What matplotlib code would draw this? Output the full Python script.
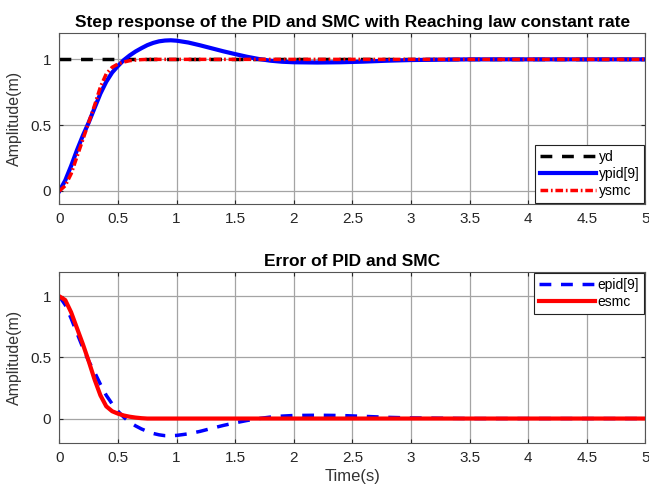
import numpy as np
import matplotlib
matplotlib.use("Agg")
import matplotlib.pyplot as plt

plt.rcParams['font.family'] = ['Liberation Sans', 'DejaVu Sans']

# time samples (s)
t = [0, 0.05, 0.1, 0.15, 0.2, 0.25, 0.3, 0.35, 0.4, 0.45, 0.5, 0.55, 0.6, 0.65, 0.7, 0.75,
     0.8, 0.85, 0.9, 0.95, 1.0, 1.1, 1.2, 1.3, 1.4, 1.5, 1.6, 1.7, 1.8, 1.9, 2.0, 2.2, 2.4, 2.6,
     2.8, 3.0, 3.5, 4.0, 4.5, 5.0]

# step response
yd = [1.0] * len(t)
ypid = [0, 0.08, 0.19, 0.31, 0.42, 0.52, 0.63, 0.74, 0.83, 0.90, 0.95, 0.995, 1.03, 1.06, 1.085, 1.108,
        1.125, 1.137, 1.143, 1.145, 1.142, 1.128, 1.107, 1.084, 1.061, 1.04, 1.02, 1.003, 0.99, 0.982, 0.978, 0.976, 0.978, 0.983,
        0.99, 0.995, 1.0, 1.0, 1.0, 1.0]
ysmc = [0, 0.04, 0.13, 0.26, 0.39, 0.52, 0.65, 0.79, 0.89, 0.94, 0.965, 0.98, 0.99, 0.995, 0.998, 1.0,
        1.0, 1.0, 1.0, 1.0, 1.0, 1.0, 1.0, 1.0, 1.0, 1.0, 1.0, 1.0, 1.0, 1.0, 1.0, 1.0, 1.0, 1.0,
        1.0, 1.0, 1.0, 1.0, 1.0, 1.0]

# errors
epid = [1, 0.93, 0.82, 0.70, 0.58, 0.47, 0.38, 0.28, 0.19, 0.12, 0.06, 0.01, -0.03, -0.06, -0.085, -0.105,
        -0.122, -0.133, -0.14, -0.141, -0.138, -0.125, -0.105, -0.08, -0.056, -0.035, -0.016, 0.0, 0.012, 0.02, 0.025, 0.027, 0.025, 0.018,
        0.01, 0.005, 0.0, 0.0, 0.0, 0.0]
esmc = [1, 0.97, 0.87, 0.74, 0.61, 0.47, 0.32, 0.19, 0.10, 0.06, 0.04, 0.025, 0.015, 0.008, 0.003, 0.0,
        0, 0, 0, 0, 0, 0, 0, 0, 0, 0, 0, 0, 0, 0, 0, 0, 0, 0,
        0, 0, 0, 0, 0, 0]

xticks = [0, 0.5, 1, 1.5, 2, 2.5, 3, 3.5, 4, 4.5, 5]
xticklabels = ['0', '0.5', '1', '1.5', '2', '2.5', '3', '3.5', '4', '4.5', '5']
yticks = [0, 0.5, 1]
yticklabels = ['0', '0.5', '1']

fig = plt.figure(figsize=(6.49, 4.86), dpi=100)
ax1 = fig.add_axes([0.0915, 0.58, 0.903, 0.352])
ax2 = fig.add_axes([0.0915, 0.0885, 0.903, 0.352])


def style(ax, ylim):
    ax.set_xlim(0, 5)
    ax.set_ylim(*ylim)
    ax.set_xticks(xticks)
    ax.set_xticklabels(xticklabels)
    ax.set_yticks(yticks)
    ax.set_yticklabels(yticklabels)
    ax.grid(True, color='#a4a4a4', linewidth=0.9)
    ax.tick_params(direction='in', labelsize=11, colors='#262626', top=True, right=True,
                   length=3, pad=6)
    for s in ax.spines.values():
        s.set_color('#555555')
        s.set_linewidth(0.8)
    ax.set_ylabel('Amplitude(m)', fontsize=11.5, color='#333333', labelpad=6)


def legend(ax, loc):
    leg = ax.legend(loc=loc, fontsize=10, fancybox=False, framealpha=1,
                    edgecolor='#222222', handlelength=4.0, borderpad=0.35, labelspacing=0.2,
                    handletextpad=0.2, borderaxespad=0.1)
    leg.get_frame().set_linewidth(0.8)
    return leg


ax1.plot(t, yd, color='black', linestyle='--', linewidth=2.5, dashes=(3.4, 2.8), label='yd')
ax1.plot(t, ypid, color='#0000ff', linewidth=3, label='ypid[9]')
ax1.plot(t, ysmc, color='#ff0000', linestyle='-.', linewidth=2.5, dashes=(2.2, 0.8, 0.5, 0.8),
         label='ysmc')
style(ax1, (-0.1, 1.2))
ax1.set_title('Step response of the PID and SMC with Reaching law constant rate',
              fontsize=12.5, fontweight='bold', pad=4)
legend(ax1, 'lower right')

ax2.plot(t, epid, color='#0000ff', linestyle='--', dashes=(3.4, 2.8), linewidth=2.5, label='epid[9]')
ax2.plot(t, esmc, color='#ff0000', linewidth=3, label='esmc')
style(ax2, (-0.2, 1.2))
ax2.set_title('Error of PID and SMC', fontsize=12.5, fontweight='bold', pad=4)
ax2.set_xlabel('Time(s)', fontsize=12, color='#333333', labelpad=3)
legend(ax2, 'upper right')

fig.savefig('out.png', dpi=100)
